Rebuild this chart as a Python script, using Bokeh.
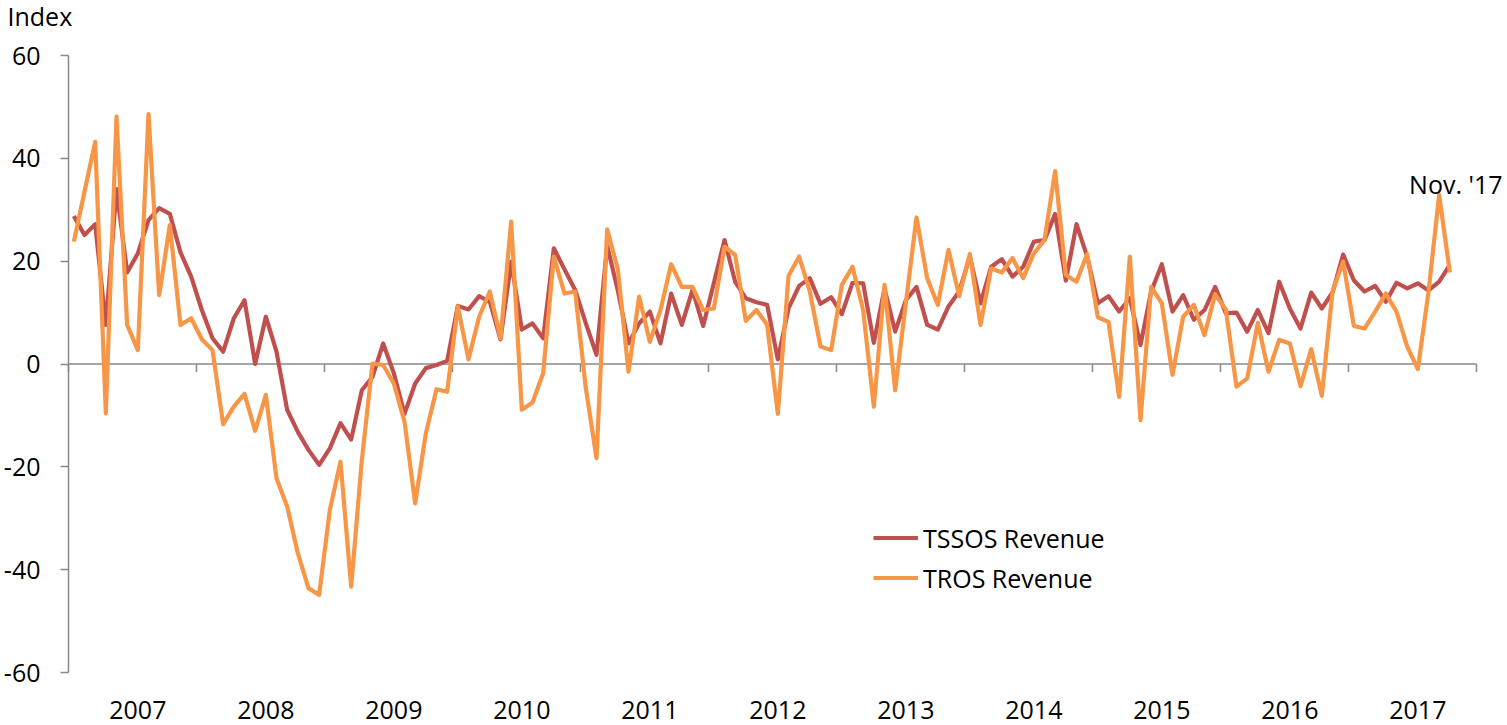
from bokeh.plotting import figure
from bokeh.models import Range1d, FixedTicker, ColumnDataSource, PrintfTickFormatter
from bokeh.core.properties import value
from bokeh.embed import file_html
from bokeh.resources import INLINE

# ---- data (monthly, Feb 2007 .. Nov 2017) ----
tssos = [
    28.8, 25.1, 27.2, 7.6, 34.0, 17.8, 21.5, 28.0, 30.3, 29.2,
    21.7, 17.0, 10.5, 5.0, 2.4, 8.9, 12.4, 0.0, 9.2, 2.4,
    -8.9, -13.2, -16.7, -19.6, -16.4, -11.5, -14.7, -5.1, -2.5, 4.0,
    -1.8, -9.7, -3.8, -0.8, -0.2, 0.6, 11.3, 10.6, 13.2, 12.1,
    4.8, 19.9, 6.7, 7.9, 5.0, 22.5, 18.4, 14.4, 7.9, 1.8,
    23.0, 14.3, 4.0, 7.9, 10.2, 4.0, 13.7, 7.6, 14.4, 7.4,
    15.7, 24.1, 16.0, 12.8, 12.0, 11.5, 0.9, 10.8, 15.2, 16.7,
    11.7, 13.0, 9.7, 15.8, 15.7, 4.1, 14.7, 6.3, 12.4, 15.0,
    7.6, 6.7, 11.2, 14.1, 20.9, 11.8, 18.9, 20.4, 17.0, 18.9,
    23.8, 24.1, 29.2, 16.2, 27.2, 20.9, 11.8, 13.2, 10.2, 12.8,
    3.7, 14.1, 19.4, 10.2, 13.4, 8.6, 10.5, 15.0, 9.9, 10.0,
    6.3, 10.5, 6.0, 16.0, 10.8, 6.9, 13.9, 10.8, 13.9, 21.3,
    16.3, 14.1, 15.2, 12.1, 15.8, 14.7, 15.7, 14.3, 16.0, 19.3,
]
tros = [
    23.8, 33.5, 43.2, -9.6, 48.1, 7.6, 2.7, 48.6, 13.4, 27.0,
    7.6, 8.9, 4.8, 2.7, -11.7, -8.3, -5.8, -13.0, -6.0, -22.2,
    -27.7, -36.8, -43.6, -44.9, -28.4, -19.0, -43.3, -18.7, 0.1, -0.2,
    -3.8, -11.2, -27.1, -13.5, -4.9, -5.4, 11.2, 0.9, 9.2, 14.1,
    5.0, 27.7, -8.9, -7.5, -1.8, 20.9, 13.7, 14.1, -4.7, -18.3,
    26.2, 18.4, -1.5, 13.1, 4.3, 10.5, 19.4, 15.0, 15.0, 10.5,
    10.8, 22.8, 21.2, 8.4, 10.5, 7.6, -9.7, 17.1, 20.9, 14.1,
    3.4, 2.7, 15.4, 18.9, 10.5, -8.3, 15.4, -5.1, 11.8, 28.5,
    16.7, 11.5, 22.2, 13.2, 21.4, 7.6, 18.6, 17.8, 20.6, 16.7,
    21.5, 24.1, 37.5, 17.3, 16.0, 21.4, 9.1, 8.2, -6.4, 20.9,
    -10.9, 15.0, 11.8, -2.1, 9.2, 11.5, 5.6, 13.6, 10.6, -4.4,
    -2.8, 8.0, -1.5, 4.7, 4.0, -4.3, 2.9, -6.2, 14.1, 19.9,
    7.4, 6.9, 10.2, 13.7, 10.2, 3.4, -1.0, 14.0, 32.9, 17.8,
]
years = ["2007", "2008", "2009", "2010", "2011", "2012",
         "2013", "2014", "2015", "2016", "2017"]
y_ticks = [-60, -40, -20, 0, 20, 40, 60]
end_label = "Nov. '17"
y_title = "Index"

# ---- styling ----
FONT = "Open Sans"
FS = "25px"
RED = "#C0504D"
ORANGE = "#F79646"
AXIS = "#898989"

months = list(range(len(tssos)))

W, H = 1507, 725
LEFT = 68          # pixel column of the value axis
Y60 = 55           # pixel row of +60
px_per_unit = 617 / 120.0
px_per_month = 128 / 12.0
y_top = 60 + Y60 / px_per_unit
y_bot = y_top - H / px_per_unit
x_start = -0.5 - LEFT / px_per_month
x_end = x_start + W / px_per_month

p = figure(width=W, height=H, output_backend="svg", toolbar_location=None,
           x_range=Range1d(x_start, x_end), y_range=Range1d(y_bot, y_top),
           x_axis_location=None, min_border_left=0, min_border_right=0,
           min_border_top=0, min_border_bottom=0, outline_line_color=None)
p.grid.visible = False
p.background_fill_color = "white"
p.border_fill_color = "white"

ax = p.yaxis[0]
ax.fixed_location = -0.5
ax.ticker = FixedTicker(ticks=y_ticks)
ax.formatter = PrintfTickFormatter(format="%d")
ax.bounds = (y_ticks[0], y_ticks[-1])
ax.axis_line_color = AXIS
ax.axis_line_width = 1.5
ax.major_tick_line_color = AXIS
ax.major_tick_line_width = 1.5
ax.major_tick_in = 0
ax.major_tick_out = 8
ax.minor_tick_line_color = None
ax.major_label_text_font = FONT
ax.major_label_text_font_size = FS
ax.major_label_text_color = "black"
ax.major_label_standoff = 20

# zero axis line with tick marks between years
bounds = [-0.5 + 12 * k for k in range(len(years) + 1)]
p.segment(x0=[bounds[0]], y0=[0], x1=[bounds[-1]], y1=[0],
          line_color=AXIS, line_width=1.5)
p.segment(x0=bounds, y0=[0] * len(bounds), x1=bounds,
          y1=[-8 / px_per_unit] * len(bounds), line_color=AXIS, line_width=1.5)

src = ColumnDataSource(dict(x=months, tssos=tssos, tros=tros))
p.line("x", "tssos", source=src, line_color=RED, line_width=4.2,
       line_join="round", legend_label="TSSOS Revenue")
p.line("x", "tros", source=src, line_color=ORANGE, line_width=4.2,
       line_join="round", legend_label="TROS Revenue")

# year labels
year_x = [6 + 12 * k for k in range(len(years))]
p.text(x=year_x, y=[-60] * len(years), text=years, text_align="center",
       text_baseline="alphabetic", y_offset=37, text_font=value(FONT),
       text_font_size=value(FS), text_color="black")

# end label
p.text(x=[months[-1]], y=[33.5], text=[end_label], text_align="center",
       text_baseline="alphabetic", x_offset=6, y_offset=-8,
       text_font=value(FONT), text_font_size=value(FS), text_color="black")

# axis title
p.text(x=[-0.5], y=[y_ticks[-1]], text=[y_title], text_align="left",
       text_baseline="alphabetic", x_offset=-61, y_offset=-40,
       text_font=value(FONT), text_font_size=value(FS), text_color="black")

lg = p.legend[0]
lg.location = (805 + LEFT, 130)
lg.padding = 0
lg.margin = 0
lg.spacing = 5
lg.glyph_width = 45
lg.glyph_height = 35
lg.label_height = 35
lg.label_standoff = 5
lg.label_text_font = FONT
lg.label_text_font_size = FS
lg.label_text_color = "black"
lg.background_fill_alpha = 0
lg.border_line_alpha = 0

open("out.html", "w").write(file_html(p, INLINE))
